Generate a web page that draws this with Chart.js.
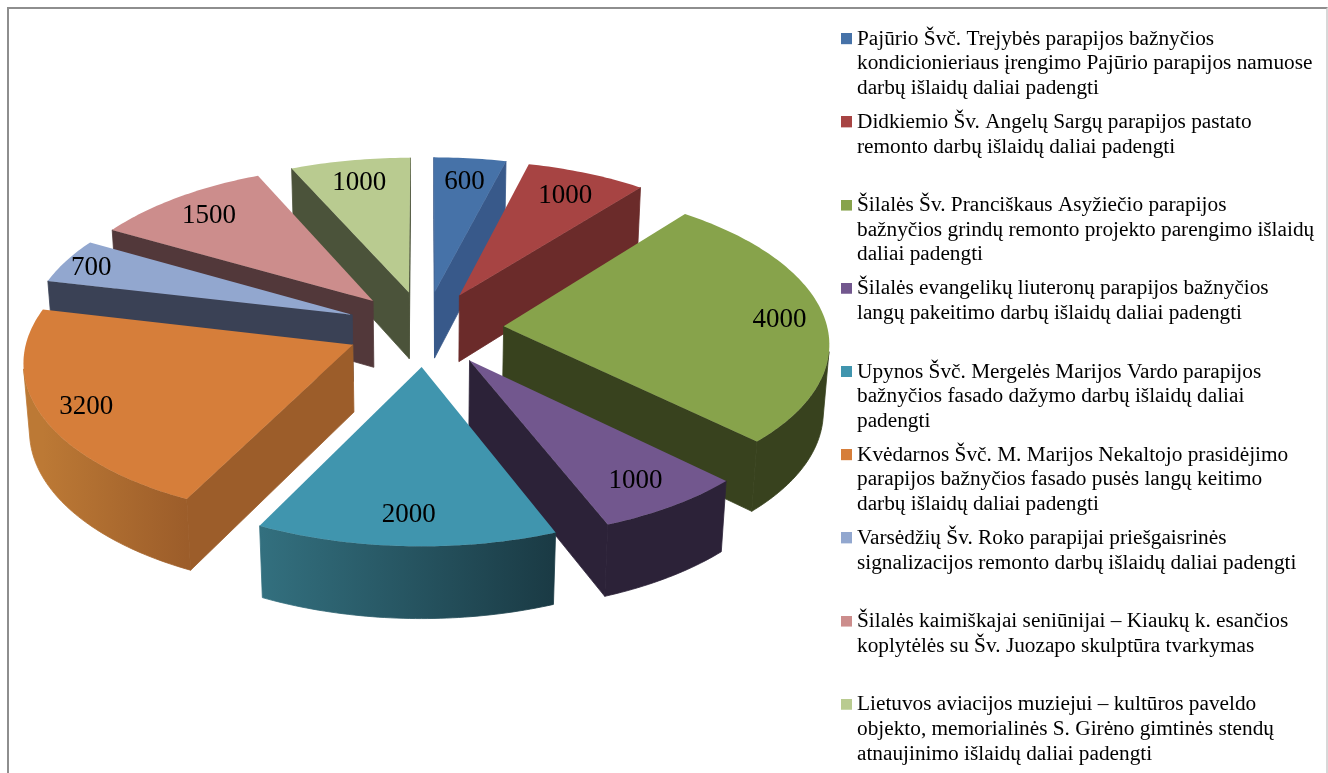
<!DOCTYPE html>
<html lang="lt">
<head>
<meta charset="utf-8">
<title>Parapijų finansavimas</title>
<script src="https://cdn.jsdelivr.net/npm/chart.js@4"></script>
<style>
    html, body { margin: 0; padding: 0; background: #fff; overflow: hidden; }
    #wrap { position: relative; width: 1328px; height: 773px; }
    #frame {
        position: absolute; left: 7px; top: 7px; width: 1317px; height: 766px;
        border-left: 2px solid #8e8e8e; border-top: 2px solid #8e8e8e; border-right: 2px solid #d8d8d8;
        pointer-events: none;
    }
    canvas { display: block; }
</style>
</head>
<body>
<div id="wrap">
    <canvas id="chart" width="1328" height="773"></canvas>
    <div id="frame"></div>
</div>
<script>
/* 3-D exploded pie: Chart.js lays out the arcs, the plugin below projects them */

const labels = [
    ["Pajūrio Švč. Trejybės parapijos bažnyčios", "kondicionieriaus įrengimo Pajūrio parapijos namuose", "darbų išlaidų daliai padengti"],
    ["Didkiemio Šv. Angelų Sargų parapijos pastato", "remonto darbų išlaidų daliai padengti"],
    ["Šilalės Šv. Pranciškaus Asyžiečio parapijos", "bažnyčios grindų remonto projekto parengimo išlaidų", "daliai padengti"],
    ["Šilalės evangelikų liuteronų parapijos bažnyčios", "langų pakeitimo darbų išlaidų daliai padengti"],
    ["Upynos Švč. Mergelės Marijos Vardo parapijos", "bažnyčios fasado dažymo darbų išlaidų daliai", "padengti"],
    ["Kvėdarnos Švč. M. Marijos Nekaltojo prasidėjimo", "parapijos bažnyčios fasado pusės langų keitimo", "darbų išlaidų daliai padengti"],
    ["Varsėdžių Šv. Roko parapijai priešgaisrinės", "signalizacijos remonto darbų išlaidų daliai padengti"],
    ["Šilalės kaimiškajai seniūnijai – Kiaukų k. esančios", "koplytėlės su Šv. Juozapo skulptūra tvarkymas"],
    ["Lietuvos aviacijos muziejui – kultūros paveldo", "objekto, memorialinės S. Girėno gimtinės stendų", "atnaujinimo išlaidų daliai padengti"]
];
const values = [600, 1000, 4000, 1000, 2000, 3200, 700, 1500, 1000];

const topColors = ["#4672a8", "#a74443", "#87a34b", "#72578e", "#4095ae", "#d67e3a", "#92a7cf", "#cc8d8c", "#b9cb90"];
const wallColors = ["#38598a", "#6b2b2a", "#38421e", "#2c2238", "#1a3a44", "#9c5d2a", "#3a4155", "#52383a", "#4b533a"];
const rimStartColors = ["#38598a", "#6b2b2a", "#38421e", "#2c2238", "#1a3a44", "#9c5d2a", "#3a4155", "#52383a", "#4b533a"];
const rimEndColors = ["#38598a", "#6b2b2a", "#38421e", "#2c2238", "#33707f", "#bc7935", "#3a4155", "#52383a", "#4b533a"];
const labelRadius = [0.83, 0.82, 0.86, 0.83, 0.83, 0.86, 0.91, 0.83, 0.83];

const PIE_X = 425;
const PIE_Y = 328.5;
const PIE_RADIUS = 320;
const EXPLODE = 78;
const TILT = 0.482;
const STRETCH = 1.012;
const PERSPECTIVE = 0.0003;
const DEPTH = 68;
const DEPTH_SHRINK = 0.015;
const FONT = "'Liberation Serif', 'Times New Roman', serif";

// u to the right, v to the back of the table, bottom = 1 for the lower face
function project(u, v, bottom) {
    const w = 1 + PERSPECTIVE * v + (bottom ? DEPTH_SHRINK : 0);
    return {
        x: PIE_X + STRETCH * u / w,
        y: PIE_Y - TILT * v / w + (bottom ? DEPTH / w : 0)
    };
}

// hairline stroke in the fill colour closes the seams between faces
function polygon(ctx, points, color, seam) {
    ctx.beginPath();
    points.forEach((p, i) => (i ? ctx.lineTo(p.x, p.y) : ctx.moveTo(p.x, p.y)));
    ctx.closePath();
    ctx.fillStyle = color;
    ctx.fill();
    if (seam) {
        ctx.strokeStyle = color;
        ctx.lineWidth = 0.8;
        ctx.lineJoin = "round";
        ctx.stroke();
    }
}

function signedArea(points) {
    let sum = 0;
    points.forEach((p, i) => {
        const q = points[(i + 1) % points.length];
        sum += p.x * q.y - q.x * p.y;
    });
    return sum;
}

function drawSlice(ctx, arc, i) {
    const start = arc.startAngle + Math.PI / 2;
    const end = arc.endAngle + Math.PI / 2;
    const mid = (start + end) / 2;
    const R = arc.outerRadius;
    const off = arc.options.offset;
    const ax = off * Math.sin(mid);
    const ay = off * Math.cos(mid);
    const steps = Math.max(2, Math.ceil((end - start) * 180 / Math.PI));

    const rimTop = [];
    const rimBottom = [];
    for (let s = 0; s <= steps; s++) {
        const t = start + (end - start) * s / steps;
        const u = ax + R * Math.sin(t);
        const v = ay + R * Math.cos(t);
        rimTop.push(project(u, v, 0));
        rimBottom.push(project(u, v, 1));
    }
    const apexTop = project(ax, ay, 0);
    const apexBottom = project(ax, ay, 1);

    const startWall = [apexTop, rimTop[0], rimBottom[0], apexBottom];
    const endWall = [apexTop, rimTop[steps], rimBottom[steps], apexBottom];
    if (signedArea(startWall) < 0) polygon(ctx, startWall, wallColors[i], true);
    if (signedArea(endWall) > 0) polygon(ctx, endWall, wallColors[i], true);

    // the rim is one shape with a sideways gradient, strips leave seams
    const visible = [];
    for (let s = 0; s < steps; s++) {
        if (signedArea([rimTop[s], rimTop[s + 1], rimBottom[s + 1], rimBottom[s]]) < 0) visible.push(s);
    }
    if (visible.length) {
        const first = visible[0];
        const last = visible[visible.length - 1] + 1;
        const shape = [...rimTop.slice(first, last + 1), ...rimBottom.slice(first, last + 1).reverse()];
        const gradient = ctx.createLinearGradient(rimTop[0].x, 0, rimTop[steps].x, 0);
        gradient.addColorStop(0, rimStartColors[i]);
        gradient.addColorStop(1, rimEndColors[i]);
        polygon(ctx, shape, gradient, true);
    }
    polygon(ctx, [apexTop, ...rimTop], topColors[i], false);
}

function drawValue(ctx, arc, i) {
    const mid = (arc.startAngle + arc.endAngle) / 2 + Math.PI / 2;
    const r = arc.outerRadius * labelRadius[i] + arc.options.offset;
    const p = project(r * Math.sin(mid), r * Math.cos(mid), 0);
    ctx.fillStyle = "#000";
    ctx.font = `27px ${FONT}`;
    ctx.textAlign = "center";
    ctx.textBaseline = "middle";
    ctx.fillText(String(values[i]), p.x, p.y + 2);
}

const pie3d = {
    id: "pie3d",
    afterLayout(chart) {
        // legend column sits at a fixed place, as in the original sheet
        const legend = chart.legend;
        legend.left = 836.85;
        legend.right = 1328;
        legend.width = legend.right - legend.left;
        legend.top = 19.1;
        legend.bottom = 773;
        legend.height = legend.bottom - legend.top;
    },
    beforeDatasetDraw(chart, args) {
        const ctx = chart.ctx;
        const arcs = args.meta.data.map((arc, i) => ({ arc, i }));
        const depthOf = a => Math.cos((a.arc.startAngle + a.arc.endAngle) / 2 + Math.PI / 2);
        arcs.sort((a, b) => depthOf(b) - depthOf(a));
        ctx.save();
        arcs.forEach(a => drawSlice(ctx, a.arc, a.i));
        arcs.forEach(a => drawValue(ctx, a.arc, a.i));
        ctx.restore();
        return false;
    }
};

// canvas swatch: lets the box stand clear of the text and a little above its centre line
function swatch(color) {
    const c = document.createElement("canvas");
    c.width = 11;
    c.height = 12;
    const g = c.getContext("2d");
    g.fillStyle = color;
    g.fillRect(0, 0, 11, 11);
    return c;
}

new Chart(document.getElementById("chart"), {
    type: "pie",
    data: {
        labels: labels,
        datasets: [{
            data: values,
            backgroundColor: topColors,
            borderWidth: 0,
            offset: EXPLODE
        }]
    },
    options: {
        responsive: false,
        animation: false,
        events: [],
        radius: PIE_RADIUS,
        plugins: {
            tooltip: { enabled: false },
            legend: {
                position: "right",
                align: "start",
                labels: {
                    color: "#000",
                    font: { family: FONT, size: 21.3, lineHeight: 24.6 / 21.3 },
                    padding: 9.4,
                    usePointStyle: true,
                    pointStyleWidth: 0.1,
                    boxHeight: 11,
                    generateLabels: () => labels.map((lines, i) => ({
                        // every entry takes three rows so that the step stays even
                        text: [lines[0], lines[1] || "", lines[2] || ""],
                        fillStyle: topColors[i],
                        strokeStyle: topColors[i],
                        lineWidth: 0,
                        pointStyle: swatch(topColors[i]),
                        index: i
                    }))
                }
            }
        }
    },
    plugins: [pie3d]
});
</script>
</body>
</html>
